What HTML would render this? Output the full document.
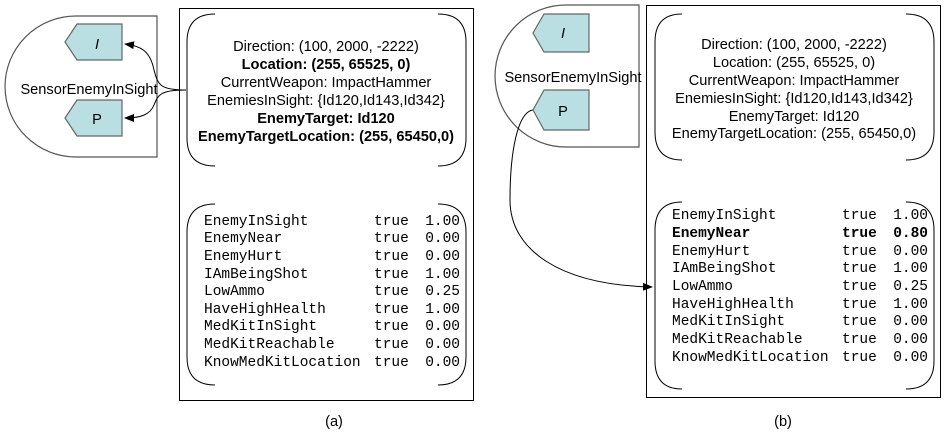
<!DOCTYPE html>
<html><head><meta charset="utf-8"><style>
html,body{margin:0;padding:0;background:#fff;}
svg{display:block}
.s{font-family:"Liberation Sans",Arial,sans-serif;font-size:14.6px;fill:#000}
.m{font-family:"Liberation Mono","Courier New",monospace;font-size:14.5px;fill:#000}
</style></head><body>
<svg width="949" height="438" viewBox="0 0 949 438" xmlns="http://www.w3.org/2000/svg">
<defs><marker id="ar" markerWidth="10" markerHeight="8" refX="9" refY="4" orient="auto" markerUnits="userSpaceOnUse"><path d="M0,0 L10,4 L0,8 z" fill="#000"/></marker></defs>
<g fill="none" stroke="#000" stroke-width="1">
<path d="M157,16 L76,16 A71,70.5 0 0 0 76,157 L157,157 Z" stroke="#555" stroke-width="1.2"/>
<rect x="179.5" y="8.5" width="294" height="392"/>
<path d="M215,14 Q187,14 187,42 L187,138 Q187,166 215,166"/>
<path d="M438,14 Q466,14 466,42 L466,138 Q466,166 438,166"/>
<path d="M215,204 Q187,204 187,232 L187,357 Q187,385 215,385"/>
<path d="M438,204 Q466,204 466,232 L466,357 Q466,385 438,385"/>
<path d="M186,90 C160,90 158,85 154,70 C150,50 140,46 125,44" marker-end="url(#ar)"/>
<path d="M186,90 C160,90 158,95 154,105 C150,115 140,118 125,118" marker-end="url(#ar)"/>
<path d="M639,5 L566,5 A71,71 0 0 0 566,147 L639,147 Z" stroke="#555" stroke-width="1.2"/>
<rect x="646.5" y="5.5" width="294" height="392"/>
<path d="M682,14 Q655,14 655,42 L655,132 Q655,160 682,160"/>
<path d="M906,14 Q934,14 934,42 L934,132 Q934,160 906,160"/>
<path d="M682,202 Q655,202 655,230 L655,361 Q655,389 682,389"/>
<path d="M906,202 Q934,202 934,230 L934,361 Q934,389 906,389"/>
<path d="M533,110 C518,112 510,150 510,200 C510,250 560,285 652,287" marker-end="url(#ar)"/>
</g>
<g fill="#b9dfe3" stroke="#666" stroke-width="1.2">
<path d="M77,24 L122,24 L122,60 L77,60 L65,42 Z"/>
<path d="M77,100 L122,100 L122,136 L77,136 L65,118 Z"/>
<path d="M544,14 L589,14 L589,52 L544,52 L533,33 Z"/>
<path d="M544,90 L589,90 L589,130 L544,130 L533,110 Z"/>
</g>
<g class="s" text-anchor="middle">
<text x="97" y="49" font-style="italic">I</text>
<text x="97" y="124">P</text>
<text x="89" y="94">SensorEnemyInSight</text>
<text x="563" y="38" font-style="italic">I</text>
<text x="563" y="116">P</text>
<text x="573" y="82">SensorEnemyInSight</text>
<text x="326" y="51">Direction: (100, 2000, -2222)</text>
<text x="326" y="69" font-weight="bold">Location: (255, 65525, 0)</text>
<text x="326" y="87">CurrentWeapon: ImpactHammer</text>
<text x="326" y="105">EnemiesInSight: {Id120,Id143,Id342}</text>
<text x="326" y="123" font-weight="bold">EnemyTarget: Id120</text>
<text x="326" y="141" font-weight="bold">EnemyTargetLocation: (255, 65450,0)</text>
<text x="794" y="49">Direction: (100, 2000, -2222)</text>
<text x="794" y="67">Location: (255, 65525, 0)</text>
<text x="794" y="85">CurrentWeapon: ImpactHammer</text>
<text x="794" y="103">EnemiesInSight: {Id120,Id143,Id342}</text>
<text x="794" y="121">EnemyTarget: Id120</text>
<text x="794" y="138">EnemyTargetLocation: (255, 65450,0)</text>
<text x="334" y="426">(a)</text>
<text x="783" y="426">(b)</text>
</g>
<g class="m">
<text x="204" y="225">EnemyInSight</text><text x="374" y="225">true</text><text x="460" y="225" text-anchor="end">1.00</text>
<text x="204" y="242">EnemyNear</text><text x="374" y="242">true</text><text x="460" y="242" text-anchor="end">0.00</text>
<text x="204" y="260">EnemyHurt</text><text x="374" y="260">true</text><text x="460" y="260" text-anchor="end">0.00</text>
<text x="204" y="278">IAmBeingShot</text><text x="374" y="278">true</text><text x="460" y="278" text-anchor="end">1.00</text>
<text x="204" y="295">LowAmmo</text><text x="374" y="295">true</text><text x="460" y="295" text-anchor="end">0.25</text>
<text x="204" y="313">HaveHighHealth</text><text x="374" y="313">true</text><text x="460" y="313" text-anchor="end">1.00</text>
<text x="204" y="330">MedKitInSight</text><text x="374" y="330">true</text><text x="460" y="330" text-anchor="end">0.00</text>
<text x="204" y="348">MedKitReachable</text><text x="374" y="348">true</text><text x="460" y="348" text-anchor="end">0.00</text>
<text x="204" y="366">KnowMedKitLocation</text><text x="374" y="366">true</text><text x="460" y="366" text-anchor="end">0.00</text>

<text x="672" y="219">EnemyInSight</text><text x="842" y="219">true</text><text x="928" y="219" text-anchor="end">1.00</text>
<text x="672" y="237" font-weight="bold">EnemyNear</text><text x="842" y="237" font-weight="bold">true</text><text x="928" y="237" text-anchor="end" font-weight="bold">0.80</text>
<text x="672" y="255">EnemyHurt</text><text x="842" y="255">true</text><text x="928" y="255" text-anchor="end">0.00</text>
<text x="672" y="272">IAmBeingShot</text><text x="842" y="272">true</text><text x="928" y="272" text-anchor="end">1.00</text>
<text x="672" y="290">LowAmmo</text><text x="842" y="290">true</text><text x="928" y="290" text-anchor="end">0.25</text>
<text x="672" y="308">HaveHighHealth</text><text x="842" y="308">true</text><text x="928" y="308" text-anchor="end">1.00</text>
<text x="672" y="325">MedKitInSight</text><text x="842" y="325">true</text><text x="928" y="325" text-anchor="end">0.00</text>
<text x="672" y="343">MedKitReachable</text><text x="842" y="343">true</text><text x="928" y="343" text-anchor="end">0.00</text>
<text x="672" y="361">KnowMedKitLocation</text><text x="842" y="361">true</text><text x="928" y="361" text-anchor="end">0.00</text>
</g>
</svg>
</body></html>
